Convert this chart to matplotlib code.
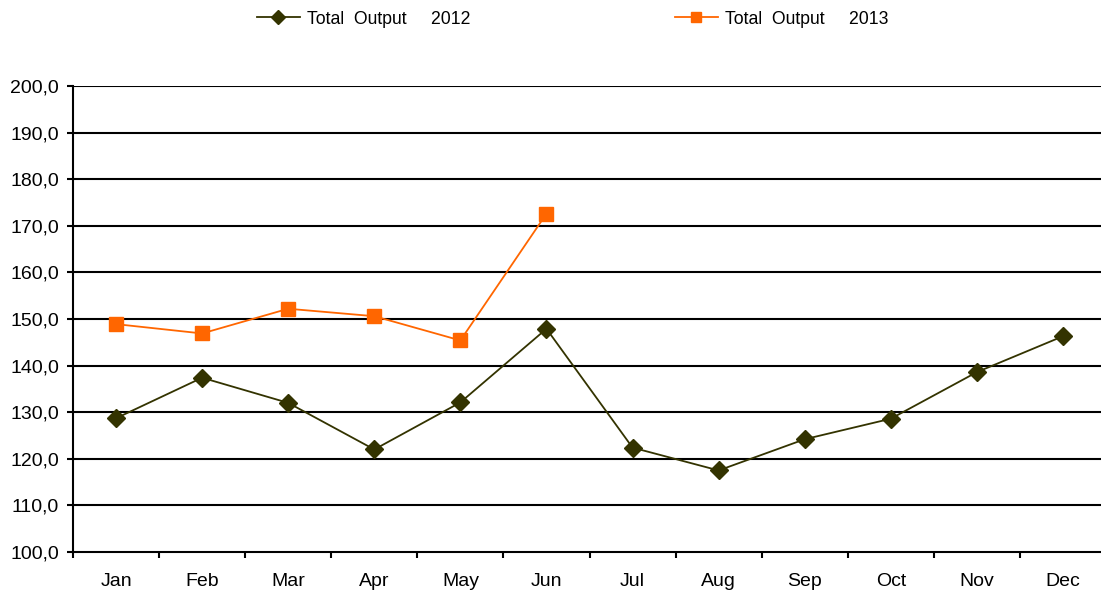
import matplotlib.pyplot as plt
import numpy as np

months = ['Jan', 'Feb', 'Mar', 'Apr', 'May', 'Jun',
          'Jul', 'Aug', 'Sep', 'Oct', 'Nov', 'Dec']
output_2012 = [128.7, 137.4, 132.0, 122.0, 132.1, 147.9,
               122.4, 117.5, 124.2, 128.6, 138.6, 146.3]
output_2013 = [148.9, 146.9, 152.2, 150.6, 145.4, 172.6]
yticks = np.arange(100, 201, 10)

plt.rcParams['font.family'] = ['Liberation Sans', 'DejaVu Sans']

fig = plt.figure(figsize=(11.01, 5.92), dpi=100)
ax = fig.add_axes([73 / 1101, 40 / 592, (1106 - 73) / 1101, 466 / 592])

x = np.arange(len(months))
ax.plot(x, output_2012, color='#333300', lw=1.3, marker='D', ms=9,
        label='Total  Output     2012', zorder=3)
ax.plot(x[:len(output_2013)], output_2013, color='#FF6600', lw=1.3,
        marker='s', ms=9.5, label='Total  Output     2013', zorder=3)

ax.set_xlim(-0.5, 11.5)
ax.set_ylim(100, 200)
ax.set_yticks(yticks)
ax.set_yticklabels([f'{v:.1f}'.replace('.', ',') for v in yticks], fontsize=14)
for v in yticks[1:]:
    ax.axhline(v, color='black', lw=1.5, zorder=1)

ax.set_xticks(np.arange(-0.5, 12, 1))
ax.set_xticklabels([])
ax.set_xticks(x, minor=True)
ax.set_xticklabels(months, minor=True, fontsize=14)
ax.tick_params(axis='x', which='minor', length=0, pad=15)
ax.tick_params(axis='x', which='major', length=4, width=1.5, direction='out')
ax.tick_params(axis='y', length=4, width=1.5, direction='out', pad=6)

for s in ['top', 'right']:
    ax.spines[s].set_visible(False)
for s in ['left', 'bottom']:
    ax.spines[s].set_linewidth(1.5)
    ax.spines[s].set_color('black')

fig.legend(loc='center', bbox_to_anchor=(0.52, 1 - 19 / 592), ncol=2,
           frameon=False, handlelength=2.43, handletextpad=0.4,
           columnspacing=11.6, markerscale=0.8, prop={'size': 12.7})

fig.savefig('out.png', dpi=100)
plt.close(fig)
